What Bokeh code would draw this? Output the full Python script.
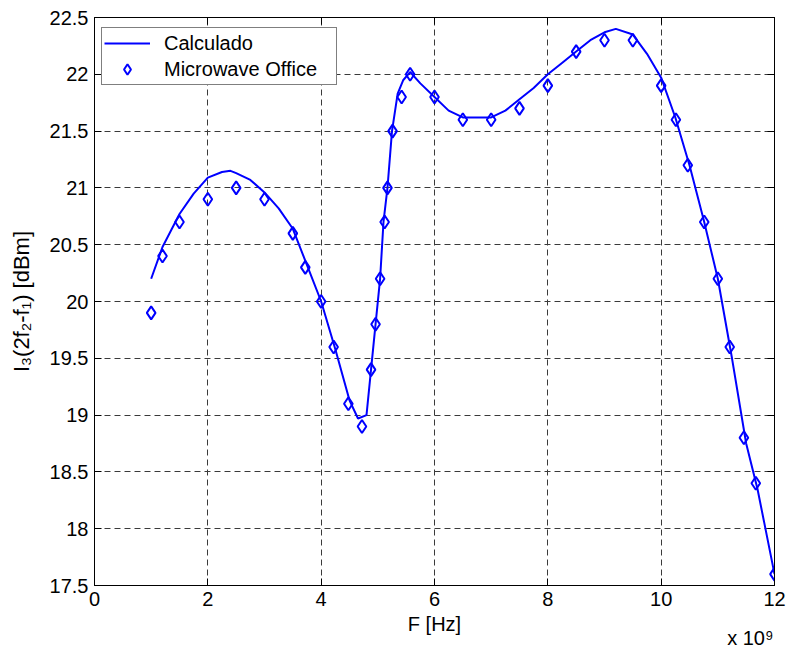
from bokeh.plotting import figure
from bokeh.models import LinearAxis, Range1d, Legend, LegendItem, Title
from bokeh.embed import file_html
from bokeh.resources import INLINE

# ---- data (frequency in units of 1e9 Hz) ----
calc_freq = [1.0, 1.2, 1.5, 1.75, 2.0, 2.25, 2.4, 2.5, 2.75, 3.0, 3.25, 3.5, 3.75,
             4.0, 4.25, 4.5, 4.65, 4.8, 4.88, 4.96, 5.04, 5.1, 5.17, 5.25, 5.35,
             5.45, 5.57, 5.75, 6.0, 6.25, 6.5, 6.75, 7.0, 7.25, 7.5, 7.75, 8.0,
             8.25, 8.5, 8.75, 9.0, 9.2, 9.5, 9.75, 10.0, 10.25, 10.5, 10.75, 11.0,
             11.25, 11.5, 11.7, 12.0]
calc_level = [20.2, 20.48, 20.77, 20.95, 21.09, 21.14, 21.15, 21.13, 21.07, 20.96,
              20.82, 20.64, 20.32, 20.0, 19.58, 19.13, 18.97, 19.0, 19.4, 19.8,
              20.2, 20.7, 21.0, 21.5, 21.83, 21.95, 22.02, 21.92, 21.8, 21.68,
              21.62, 21.62, 21.62, 21.68, 21.78, 21.88, 22.0, 22.1, 22.2, 22.3,
              22.37, 22.4, 22.35, 22.18, 21.97, 21.62, 21.2, 20.72, 20.2, 19.5,
              18.75, 18.35, 17.6]

mwo_freq = [1.0, 1.2, 1.5, 2.0, 2.5, 3.0, 3.5, 3.72, 4.0, 4.22, 4.48, 4.72, 4.88,
            4.96, 5.04, 5.12, 5.17, 5.26, 5.42, 5.57, 6.0, 6.5, 7.0, 7.5, 8.0,
            8.5, 9.0, 9.5, 10.0, 10.26, 10.47, 10.76, 11.0, 11.21, 11.46, 11.67, 12.0]
mwo_level = [19.9, 20.4, 20.7, 20.9, 21.0, 20.9, 20.6, 20.3, 20.0, 19.6, 19.1, 18.9,
             19.4, 19.8, 20.2, 20.7, 21.0, 21.5, 21.8, 22.0, 21.8, 21.6, 21.6, 21.7,
             21.9, 22.2, 22.3, 22.3, 21.9, 21.6, 21.2, 20.7, 20.2, 19.6, 18.8, 18.4,
             17.6]

x_ticks = [0, 2, 4, 6, 8, 10, 12]
x_tick_labels = ["0", "2", "4", "6", "8", "10", "12"]
y_ticks = [17.5, 18, 18.5, 19, 19.5, 20, 20.5, 21, 21.5, 22, 22.5]
y_tick_labels = ["17.5", "18", "18.5", "19", "19.5", "20", "20.5", "21", "21.5", "22", "22.5"]
x_multiplier = "x 10\u2079"

FONT = "Liberation Sans"
BLUE = "#0000FF"

p = figure(width=787, height=649, output_backend="svg", toolbar_location=None,
           x_range=Range1d(0, 12), y_range=Range1d(17.5, 22.5),
           min_border_left=94, min_border_right=13, min_border_top=17,
           min_border_bottom=64, background_fill_color="white",
           border_fill_color="white")
p.outline_line_color = "black"
p.outline_line_width = 1

def style_axis(ax, ticks, labels, show_labels=True):
    ax.ticker = ticks
    ax.major_tick_in = 7
    ax.major_tick_out = 0
    ax.minor_tick_in = 0
    ax.minor_tick_out = 0
    ax.axis_line_color = "black"
    ax.major_tick_line_color = "black"
    ax.major_label_text_font = FONT
    if show_labels:
        ax.major_label_overrides = {t: l for t, l in zip(ticks, labels)}
        ax.major_label_text_color = "black"
        ax.major_label_text_font_size = "20px"
        ax.major_label_standoff = 6
    else:
        ax.major_label_text_color = None
        ax.major_label_text_font_size = "0px"
        ax.major_label_standoff = 0

style_axis(p.xaxis[0], x_ticks, x_tick_labels)
style_axis(p.yaxis[0], y_ticks, y_tick_labels)

p.xaxis.axis_label = "F [Hz]"
p.yaxis.axis_label = "I\u2083(2f\u2082-f\u2081) [dBm]"
for ax in (p.xaxis[0], p.yaxis[0]):
    ax.axis_label_text_font = FONT
    ax.axis_label_text_font_style = "normal"
    ax.axis_label_text_color = "black"
p.xaxis.axis_label_text_font_size = "20px"
p.yaxis.axis_label_text_font_size = "22px"
p.xaxis.axis_label_standoff = 4
p.yaxis.axis_label_standoff = 13

top_ax = LinearAxis()
style_axis(top_ax, x_ticks, x_tick_labels, show_labels=False)
p.add_layout(top_ax, "above")
right_ax = LinearAxis()
style_axis(right_ax, y_ticks, y_tick_labels, show_labels=False)
p.add_layout(right_ax, "right")

for g in (p.xgrid[0], p.ygrid[0]):
    g.grid_line_color = "#3a3a3a"
    g.grid_line_dash = "6 4"
    g.grid_line_width = 1

r_line = p.line(calc_freq, calc_level, line_color=BLUE, line_width=2)
r_pts = p.scatter(mwo_freq, mwo_level, marker="diamond", size=13,
                  line_color=BLUE, line_width=2, fill_color=None)

legend = Legend(items=[LegendItem(label="Calculado", renderers=[r_line]),
                       LegendItem(label="Microwave Office", renderers=[r_pts])],
                location=(7, 500), margin=0, padding=2, spacing=0,
                glyph_width=46, glyph_height=26, label_height=26,
                label_width=170, label_standoff=14,
                label_text_font=FONT, label_text_font_size="20px",
                label_text_color="black",
                border_line_color="black", border_line_width=1,
                background_fill_color="white", background_fill_alpha=1)
p.add_layout(legend)

# "x 10^9" multiplier under the right end of the x axis
mult = Title(text=x_multiplier, align="right", vertical_align="top", offset=1,
             standoff=-22, text_font=FONT, text_font_size="20px",
             text_font_style="normal", text_color="black")
p.add_layout(mult, "below")

open("out.html", "w").write(file_html(p, INLINE))
